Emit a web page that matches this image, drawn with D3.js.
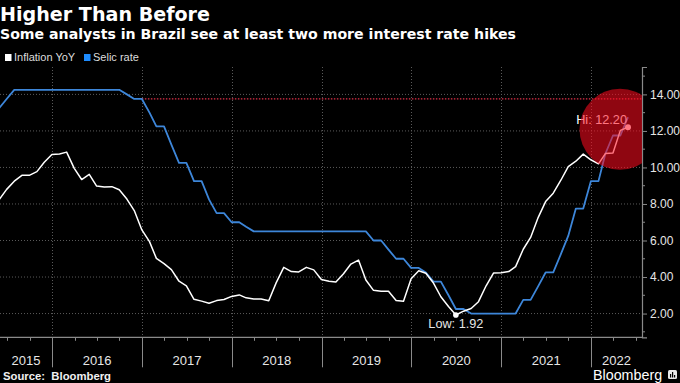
<!DOCTYPE html>
<html><head><meta charset="utf-8">
<script src="https://cdn.jsdelivr.net/npm/d3@7"></script>
<style>html,body{margin:0;padding:0;background:#000}svg{display:block}</style>
</head><body>
<svg id="chart" width="680" height="383"></svg>
<script>
// ---------- DATA ----------
const title = "Higher Than Before";
const subtitle = "Some analysts in Brazil see at least two more interest rate hikes";
const seriesNames = ["Inflation YoY", "Selic rate"];
const firstMonth = "2015-05"; // monthly data, May 2015 .. May 2022
const inflation = [
  8.24, 8.80, 9.25, 9.57, 9.57, 9.77, 10.28, 10.71,
  10.74, 10.84, 9.95, 9.34, 9.62, 8.98, 8.93, 8.95, 8.78, 8.27, 7.64, 6.58,
  5.94, 5.02, 4.73, 4.41, 3.77, 3.52, 2.78, 2.68, 2.56, 2.71, 2.77, 2.94,
  3.02, 2.86, 2.80, 2.80, 2.70, 3.68, 4.53, 4.30, 4.28, 4.53, 4.39, 3.86,
  3.77, 3.73, 4.18, 4.71, 4.93, 3.84, 3.27, 3.22, 3.22, 2.72, 2.67, 3.91,
  4.34, 4.21, 3.67, 2.92, 2.39, 1.92, 2.13, 2.28, 2.65, 3.52, 4.22, 4.23,
  4.30, 4.57, 5.52, 6.17, 7.27, 8.13, 8.59, 9.30, 10.05, 10.34, 10.73, 10.42,
  10.20, 10.76, 10.79, 12.03, 12.20
];
const selic = [
  13.25, 13.75, 14.25, 14.25, 14.25, 14.25, 14.25, 14.25,
  14.25, 14.25, 14.25, 14.25, 14.25, 14.25, 14.25, 14.25, 14.25, 14.00, 13.75, 13.75,
  13.00, 12.25, 12.25, 11.25, 10.25, 10.25, 9.25, 9.25, 8.25, 7.50, 7.50, 7.00,
  7.00, 6.75, 6.50, 6.50, 6.50, 6.50, 6.50, 6.50, 6.50, 6.50, 6.50, 6.50,
  6.50, 6.50, 6.50, 6.50, 6.50, 6.50, 6.00, 6.00, 5.50, 5.00, 5.00, 4.50,
  4.50, 4.25, 3.75, 3.75, 3.00, 2.25, 2.25, 2.00, 2.00, 2.00, 2.00, 2.00,
  2.00, 2.00, 2.75, 2.75, 3.50, 4.25, 4.25, 5.25, 6.25, 7.75, 7.75, 9.25,
  9.25, 10.75, 11.75, 11.75, 12.75
];
const yTicks = [2, 4, 6, 8, 10, 12, 14];
const yearLabels = ["2015", "2016", "2017", "2018", "2019", "2020", "2021", "2022"];
const refLevel = 13.75;          // red dotted line
const refStart = "2016-12";      // month where it starts
const lowLabel = "Low: 1.92";
const hiLabel = "Hi: 12.20";
const source = "Source:  Bloomberg";

// ---------- LAYOUT ----------
const W = 680, H = 383;
const plot = {left: 0, right: 642, top: 67, bottom: 337.3};
const font = "'Liberation Sans', Arial, sans-serif";
const titleFont = "'DejaVu Sans', Verdana, sans-serif";
const blue = "#3d86d9";

const svg = d3.select("#chart");
svg.append("rect").attr("width", W).attr("height", H).attr("fill", "#000");

const parseMonth = d3.timeParse("%Y-%m");
const monthEnd = d => new Date(d.getFullYear(), d.getMonth() + 1, 0);
const start = parseMonth(firstMonth);
const dates = inflation.map((_, i) => monthEnd(d3.timeMonth.offset(start, i)));

const x = d3.scaleTime()
  .domain([new Date(2015, 5, 3), new Date(2022, 6, 27)])
  .range([plot.left, plot.right]);
const y = d3.scaleLinear().domain([0.7, 15.5]).range([plot.bottom, plot.top]);

// clip
svg.append("clipPath").attr("id", "clip").append("rect")
  .attr("x", plot.left).attr("y", plot.top)
  .attr("width", plot.right - plot.left).attr("height", plot.bottom - plot.top);

// ---------- GRID ----------
const grid = svg.append("g");
grid.selectAll("line.h").data(yTicks).join("line")
  .attr("x1", plot.left).attr("x2", plot.right)
  .attr("y1", d => y(d)).attr("y2", d => y(d))
  .attr("stroke", "#5a5a5a").attr("stroke-width", 1).attr("stroke-dasharray", "1,2");
const years = d3.timeYear.range(new Date(2016, 0, 1), new Date(2023, 0, 1));
grid.selectAll("line.v").data(years).join("line")
  .attr("x1", d => Math.round(x(d)) + 0.5).attr("x2", d => Math.round(x(d)) + 0.5)
  .attr("y1", plot.top).attr("y2", plot.bottom)
  .attr("stroke", "#5a5a5a").attr("stroke-width", 1).attr("stroke-dasharray", "1,2");

// ---------- X AXIS ----------
const xa = svg.append("g");
xa.append("line").attr("x1", plot.left).attr("x2", plot.right)
  .attr("y1", plot.bottom).attr("y2", plot.bottom)
  .attr("stroke", "#8a8a8a").attr("stroke-width", 1.2);
const quarters = d3.timeMonth.every(3).range(x.domain()[0], x.domain()[1]);
xa.selectAll("line.q").data(quarters).join("line")
  .attr("x1", d => Math.round(x(d)) + 0.5).attr("x2", d => Math.round(x(d)) + 0.5)
  .attr("y1", plot.bottom).attr("y2", plot.bottom + 3.5)
  .attr("stroke", "#8a8a8a").attr("stroke-width", 1);
xa.selectAll("line.y").data(years).join("line")
  .attr("x1", d => Math.round(x(d)) + 0.5).attr("x2", d => Math.round(x(d)) + 0.5)
  .attr("y1", plot.bottom).attr("y2", plot.bottom + 30)
  .attr("stroke", "#8a8a8a").attr("stroke-width", 1);
const yearStarts = yearLabels.map(s => new Date(+s, 0, 1));
xa.selectAll("text").data(yearLabels).join("text")
  .attr("x", (d, i) => {
    const a = Math.max(plot.left, x(yearStarts[i]));
    const b = Math.min(plot.right, x(new Date(+d + 1, 0, 1)));
    return (a + b) / 2;
  })
  .attr("y", 364.5).attr("text-anchor", "middle")
  .attr("font-family", font).attr("font-size", 13).attr("fill", "#e6e6e6")
  .text(d => d);

// ---------- Y AXIS (right) ----------
const yAxis = d3.axisRight(y).tickValues(yTicks).tickSize(5).tickPadding(3)
  .tickFormat(d3.format(".2f"));
const ya = svg.append("g").attr("transform", `translate(${plot.right},0)`).call(yAxis);
ya.select(".domain").attr("stroke", "#8a8a8a").attr("stroke-width", 1.2);
ya.selectAll(".tick line").attr("stroke", "#8a8a8a");
ya.selectAll(".tick text").attr("font-family", font).attr("font-size", 12).attr("fill", "#e6e6e6");
const minor = d3.range(1, 16).filter(v => v % 2 === 1);
ya.selectAll("line.minor").data(minor).join("line")
  .attr("x1", 0).attr("x2", 3).attr("y1", d => y(d)).attr("y2", d => y(d))
  .attr("stroke", "#8a8a8a");

// ---------- REF LINE ----------
svg.append("line")
  .attr("x1", x(monthEnd(parseMonth(refStart)))).attr("x2", plot.right)
  .attr("y1", y(refLevel)).attr("y2", y(refLevel))
  .attr("stroke", "#e0304a").attr("stroke-width", 1.2).attr("stroke-dasharray", "1.5,1.5");

// ---------- LINES ----------
const lines = svg.append("g").attr("clip-path", "url(#clip)");
const line = d3.line().x((d, i) => x(dates[i])).y(d => y(d));
lines.append("path").datum(selic).attr("d", line)
  .attr("fill", "none").attr("stroke", blue).attr("stroke-width", 1.8).attr("stroke-linejoin", "round");
lines.append("path").datum(inflation).attr("d", line)
  .attr("fill", "none").attr("stroke", "#ffffff").attr("stroke-width", 1.5).attr("stroke-linejoin", "round");

// ---------- ANNOTATIONS ----------
const iLow = inflation.indexOf(d3.min(inflation));
const iHi = inflation.indexOf(d3.max(inflation));
svg.append("circle").attr("cx", x(dates[iLow])).attr("cy", y(inflation[iLow])).attr("r", 2.8).attr("fill", "#fff");
svg.append("text").attr("x", x(dates[iLow])).attr("y", 327.5).attr("text-anchor", "middle")
  .attr("font-family", font).attr("font-size", 12.7).attr("fill", "#e6e6e6").text(lowLabel);
svg.append("circle").attr("cx", x(dates[iHi])).attr("cy", y(inflation[iHi])).attr("r", 3).attr("fill", "#fff");
svg.append("text").attr("x", x(dates[iHi]) - 1).attr("y", 123.5).attr("text-anchor", "end")
  .attr("font-family", font).attr("font-size", 12.7).attr("fill", "#ffffff").text(hiLabel);
// red highlight circle
svg.append("g").attr("clip-path", "url(#clip)").append("circle")
  .attr("cx", x(dates[iHi]) - 8).attr("cy", y(inflation[iHi]) + 2).attr("r", 40.5)
  .attr("fill", "#ff0a1e").attr("fill-opacity", 0.56);

// ---------- TITLES / LEGEND ----------
svg.append("text").attr("x", 0).attr("y", 21).attr("font-family", titleFont).attr("font-weight", "bold")
  .attr("font-size", 19).attr("textLength", 210).attr("lengthAdjust", "spacingAndGlyphs")
  .attr("fill", "#fff").text(title);
svg.append("text").attr("x", 0).attr("y", 38.5).attr("font-family", titleFont).attr("font-weight", "bold")
  .attr("font-size", 14).attr("textLength", 516).attr("lengthAdjust", "spacingAndGlyphs")
  .attr("fill", "#fff").text(subtitle);
const legend = [{name: seriesNames[0], color: "#ffffff", x: 5}, {name: seriesNames[1], color: "#1e8cff", x: 84}];
const lg = svg.append("g");
lg.selectAll("rect").data(legend).join("rect")
  .attr("x", d => d.x).attr("y", 54).attr("width", 6.5).attr("height", 7).attr("fill", d => d.color);
lg.selectAll("text").data(legend).join("text")
  .attr("x", d => d.x + 9).attr("y", 61.3).attr("font-family", font).attr("font-size", 11)
  .attr("fill", "#dcdcdc").text(d => d.name);

// ---------- FOOTER ----------
svg.append("text").attr("x", 3).attr("y", 380).attr("font-family", font).attr("font-weight", "bold")
  .attr("font-size", 11.3).attr("fill", "#f0f0f0").attr("xml:space", "preserve").text(source);
svg.append("text").attr("x", 593).attr("y", 380).attr("font-family", font)
  .attr("font-size", 14.3).attr("fill", "#ffffff").text("Bloomberg");
const icon = svg.append("g").attr("transform", "translate(668,370)");
icon.append("rect").attr("width", 9).attr("height", 9).attr("rx", 1.5).attr("fill", "#e8e8e8");
icon.selectAll("rect.b").data([[2, 4], [4, 2], [6, 5]]).join("rect")
  .attr("x", d => d[0]).attr("y", d => d[1]).attr("width", 1.2).attr("height", d => 7.5 - d[1])
  .attr("fill", "#000");
</script>
</body></html>
